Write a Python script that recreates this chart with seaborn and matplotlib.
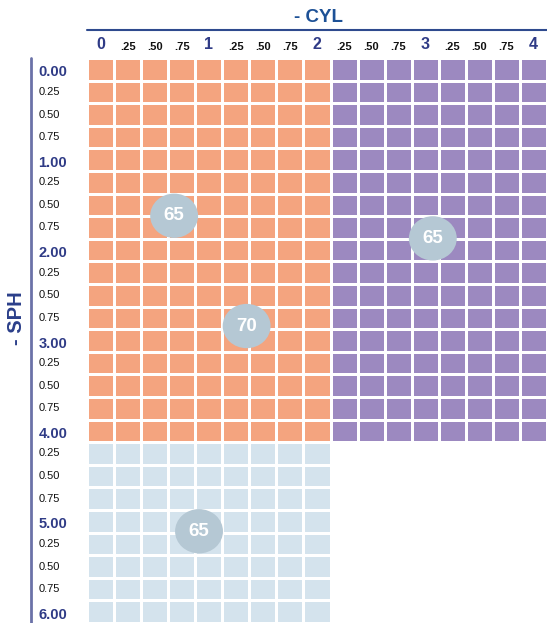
import matplotlib
matplotlib.use('Agg')
import matplotlib.pyplot as plt
import matplotlib.transforms as mtransforms
from matplotlib.colors import ListedColormap
from matplotlib.patches import Ellipse
import pandas as pd
import numpy as np
import seaborn as sns

# cylinder / sphere steps (dioptres)
cyl_values = [0.0, 0.25, 0.5, 0.75, 1.0, 1.25, 1.5, 1.75, 2.0,
              2.25, 2.5, 2.75, 3.0, 3.25, 3.5, 3.75, 4.0]
cyl_labels = ['0', '.25', '.50', '.75', '1', '.25', '.50', '.75', '2',
              '.25', '.50', '.75', '3', '.25', '.50', '.75', '4']
sph_values = [0.0, 0.25, 0.5, 0.75, 1.0, 1.25, 1.5, 1.75, 2.0, 2.25, 2.5, 2.75,
              3.0, 3.25, 3.5, 3.75, 4.0, 4.25, 4.5, 4.75, 5.0, 5.25, 5.5, 5.75, 6.0]
sph_labels = ['0.00', '0.25', '0.50', '0.75', '1.00', '0.25', '0.50', '0.75',
              '2.00', '0.25', '0.50', '0.75', '3.00', '0.25', '0.50', '0.75',
              '4.00', '0.25', '0.50', '0.75', '5.00', '0.25', '0.50', '0.75', '6.00']

# zone limits
cyl_split = 2.0
sph_split = 4.0
zone_colors = ['#F4A47F', '#9C89C0', '#D4E3ED']

# diameter bubbles (value, cyl, sph)
bubble_values = [65, 70, 65, 65]
bubble_cyl = [0.68, 1.35, 3.07, 0.91]
bubble_sph = [1.62, 2.84, 1.87, 5.11]

zones = np.full((len(sph_values), len(cyl_values)), np.nan)
for i, s in enumerate(sph_values):
    for j, c in enumerate(cyl_values):
        if s <= sph_split:
            zones[i, j] = 0 if c <= cyl_split else 1
        elif c <= cyl_split:
            zones[i, j] = 2
zone_df = pd.DataFrame(zones, index=sph_labels, columns=cyl_labels)

sns.set_theme(style='white')
plt.rcParams['font.family'] = ['Liberation Sans', 'DejaVu Sans']

fig = plt.figure(figsize=(5.47, 6.23), dpi=100)
ax = fig.add_axes([87 / 547, 0, 460 / 547, 565 / 623])

sns.heatmap(zone_df, mask=zone_df.isna(), cmap=ListedColormap(zone_colors),
            vmin=-0.5, vmax=2.5, cbar=False, linewidths=0.8, linecolor='white',
            xticklabels=cyl_labels, yticklabels=sph_labels, ax=ax)

ax.xaxis.tick_top()
ax.tick_params(axis='x', length=0, pad=4)
ax.tick_params(axis='y', length=0, pad=35)
ax.set_xlabel('')
ax.set_ylabel('')

for lab, v in zip(ax.get_xticklabels(), cyl_values):
    lab.set_rotation(0)
    if v == int(v):
        lab.set_fontsize(11.5)
        lab.set_fontweight('bold')
        lab.set_color('#2F3B86')
    else:
        lab.set_fontsize(8)
        lab.set_fontweight('bold')
        lab.set_color('#111111')

shift = mtransforms.ScaledTranslation(0, -3 / 100, fig.dpi_scale_trans)
for lab, v in zip(ax.get_yticklabels(), sph_values):
    lab.set_rotation(0)
    lab.set_ha('left')
    if v == int(v):
        lab.set_fontsize(10.5)
        lab.set_fontweight('bold')
        lab.set_color('#2F3B86')
        lab.set_transform(lab.get_transform() + shift)
    else:
        lab.set_fontsize(8)
        lab.set_color('#111111')

# bubbles: heatmap column j centre sits at j + 0.5
for val, c, s in zip(bubble_values, bubble_cyl, bubble_sph):
    x = c / 0.25 + 0.5
    y = s / 0.25 + 0.5
    ax.add_patch(Ellipse((x, y), 1.77, 1.96, facecolor='#B5C8D4',
                         edgecolor='none', zorder=5))
    ax.text(x, y, str(val), ha='center', va='center', color='white',
            fontsize=13.5, fontweight='bold', zorder=6)

for sp in ax.spines.values():
    sp.set_visible(False)

# header rules
fig.add_artist(plt.Line2D([87 / 547, 1], [1 - 30 / 623] * 2,
                          color='#2E4A8E', lw=1.5))
fig.add_artist(plt.Line2D([31 / 547] * 2, [0, 1 - 58 / 623],
                          color='#6B72A8', lw=2))

fig.text(318 / 547, 1 - 17 / 623, '- CYL', ha='center', va='center',
         fontsize=13.5, fontweight='bold', color='#1D5196')
fig.text(16 / 547, 1 - 318 / 623, '- SPH', ha='center', va='center',
         rotation=90, fontsize=14.5, fontweight='bold', color='#2B3F8A')

fig.savefig('out.png', dpi=100)
